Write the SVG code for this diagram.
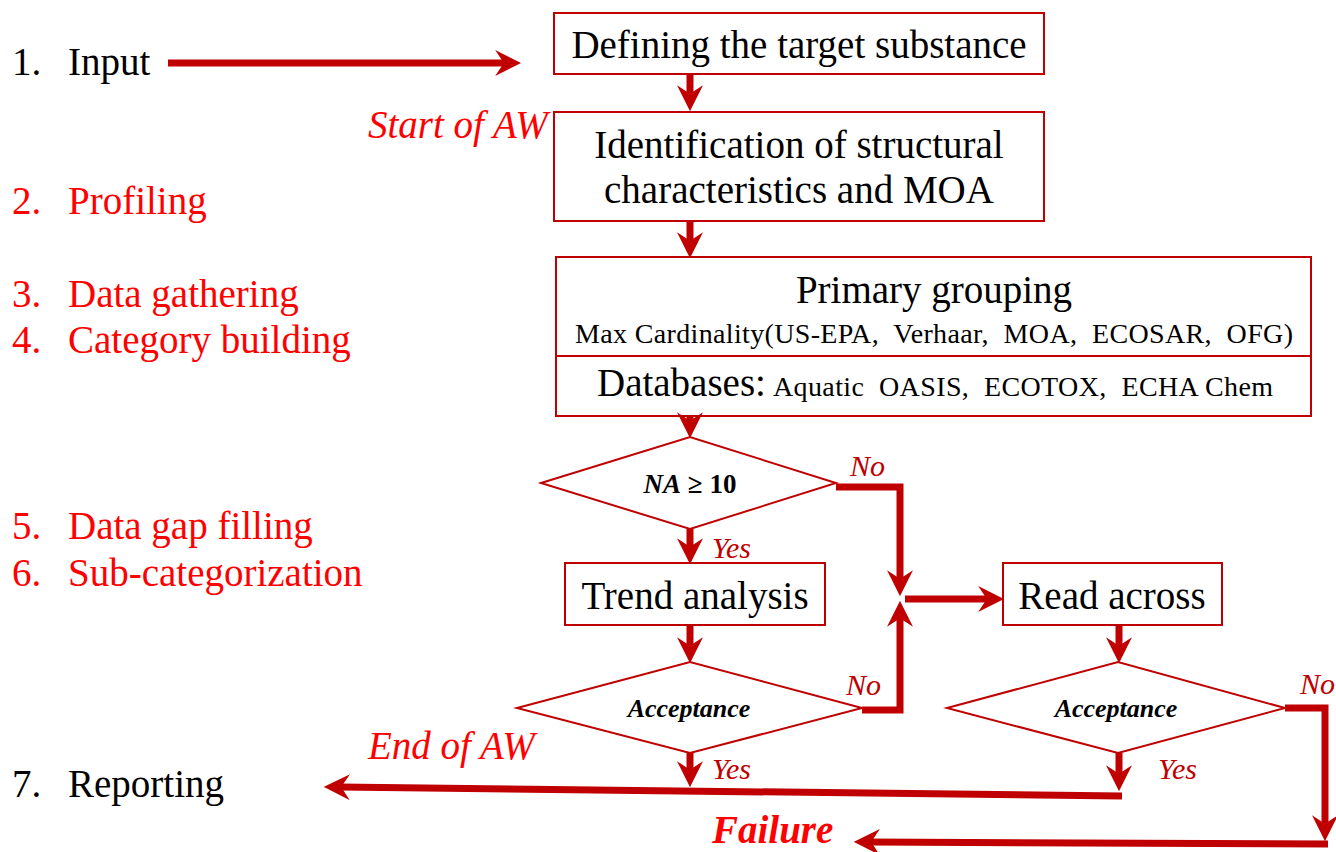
<svg xmlns="http://www.w3.org/2000/svg" width="1336" height="852" viewBox="0 0 1336 852">
  <style>
    text { font-family: "Liberation Serif", "Times New Roman", serif; }
    .box { fill: #ffffff; stroke: #c00000; stroke-width: 2; }
    .lbl { font-size: 39px; fill: #000000; text-anchor: middle; }
    .step { font-size: 39px; }
    .blk { fill: #000000; }
    .red { fill: #ff0000; }
    .yn { font-size: 30px; font-style: italic; fill: #c00000; }
    .cond { font-weight: bold; font-style: italic; fill: #000000; text-anchor: middle; }
    .conn { fill: none; stroke: #c00000; stroke-width: 7; }
  </style>
  <defs>
    <marker id="ah" markerUnits="userSpaceOnUse" markerWidth="26" markerHeight="26" viewBox="0 -12 24 24" refX="10" refY="0" orient="auto">
      <path d="M0,-12 L24,0 L0,12 L8,0 z" fill="#c00000"/>
    </marker>
  </defs>
  <rect width="1336" height="852" fill="#ffffff"/>

  <!-- workflow steps on the left -->
  <g id="steps">
    <text class="step blk" x="12" y="75">1.</text><text class="step blk" x="68" y="75">Input</text>
    <text class="step red" x="12" y="214">2.</text><text class="step red" x="68" y="214">Profiling</text>
    <text class="step red" x="12" y="307">3.</text><text class="step red" x="68" y="307">Data gathering</text>
    <text class="step red" x="12" y="353">4.</text><text class="step red" x="68" y="353">Category building</text>
    <text class="step red" x="12" y="539">5.</text><text class="step red" x="68" y="539">Data gap filling</text>
    <text class="step red" x="12" y="586">6.</text><text class="step red" x="68" y="586">Sub-categorization</text>
    <text class="step blk" x="12" y="797">7.</text><text class="step blk" x="68" y="797">Reporting</text>
  </g>

  <g id="phase-labels">
    <text x="368" y="138" font-size="39" font-style="italic" fill="#ff0000">Start of AW</text>
    <text x="368" y="759" font-size="39" font-style="italic" fill="#ff0000">End of AW</text>
    <text x="712" y="843" font-size="39" font-style="italic" font-weight="bold" fill="#ff0000">Failure</text>
  </g>

  <!-- process boxes -->
  <g id="define">
    <rect class="box" x="554" y="13" width="490" height="61"/>
    <text class="lbl" x="799" y="58">Defining the target substance</text>
  </g>
  <g id="identify">
    <rect class="box" x="554" y="112" width="490" height="109"/>
    <text class="lbl" x="799" y="158">Identification of structural</text>
    <text class="lbl" x="799" y="203">characteristics and MOA</text>
  </g>
  <g id="grouping">
    <rect class="box" x="556" y="257" width="755" height="159"/>
    <line x1="556" y1="356" x2="1311" y2="356" stroke="#c00000" stroke-width="2"/>
    <text class="lbl" x="934" y="303">Primary grouping</text>
    <text x="575" y="343" font-size="28" textLength="718" lengthAdjust="spacing" xml:space="preserve">Max Cardinality(US-EPA,  Verhaar,  MOA,  ECOSAR,  OFG)</text>
    <text x="597" y="396" font-size="39">Databases:</text>
    <text x="773" y="396" font-size="28" textLength="500" lengthAdjust="spacing" xml:space="preserve">Aquatic  OASIS,  ECOTOX,  ECHA Chem</text>
  </g>
  <g id="na-check">
    <polygon class="box" points="541,483 690,437 836,483 690,529"/>
    <text class="cond" x="690" y="493" font-size="27"><tspan>NA</tspan><tspan font-style="normal"> ≥ 10</tspan></text>
  </g>
  <g id="trend">
    <rect class="box" x="565" y="563" width="260" height="62"/>
    <text class="lbl" x="695" y="609">Trend analysis</text>
  </g>
  <g id="accept-trend">
    <polygon class="box" points="517,708 690,662 862,708 690,753"/>
    <text class="cond" x="689" y="717" font-size="26">Acceptance</text>
  </g>
  <g id="read-across">
    <rect class="box" x="1003" y="563" width="219" height="62"/>
    <text class="lbl" x="1112" y="609">Read across</text>
  </g>
  <g id="accept-read">
    <polygon class="box" points="947,708 1118,662 1285,708 1118,753"/>
    <text class="cond" x="1116" y="717" font-size="26">Acceptance</text>
  </g>

  <!-- branch labels -->
  <g id="branch-labels">
    <text class="yn" x="850" y="476">No</text>
    <text class="yn" x="712" y="558">Yes</text>
    <text class="yn" x="846" y="695">No</text>
    <text class="yn" x="712" y="779">Yes</text>
    <text class="yn" x="1158" y="779">Yes</text>
    <text class="yn" x="1300" y="694">No</text>
  </g>

  <!-- connectors -->
  <g id="connectors">
    <line class="conn" x1="168" y1="63" x2="506" y2="63" marker-end="url(#ah)"/>
    <line class="conn" x1="690" y1="74" x2="690" y2="96" marker-end="url(#ah)"/>
    <line class="conn" x1="690" y1="221" x2="690" y2="243" marker-end="url(#ah)"/>
    <line class="conn" x1="690" y1="416" x2="690" y2="423" marker-end="url(#ah)"/>
    <line class="conn" x1="690" y1="529" x2="690" y2="549" marker-end="url(#ah)"/>
    <path class="conn" d="M836,487 H900 V581" marker-end="url(#ah)"/>
    <path class="conn" d="M862,710 H900 V616" marker-end="url(#ah)"/>
    <line class="conn" x1="905" y1="599" x2="989" y2="599" marker-end="url(#ah)"/>
    <line class="conn" x1="690" y1="625" x2="690" y2="648" marker-end="url(#ah)"/>
    <line class="conn" x1="690" y1="753" x2="690" y2="772" marker-end="url(#ah)"/>
    <line class="conn" x1="1119" y1="625" x2="1119" y2="648" marker-end="url(#ah)"/>
    <line class="conn" x1="1119" y1="753" x2="1119" y2="776" marker-end="url(#ah)"/>
    <line class="conn" x1="1122" y1="796" x2="339" y2="787" marker-end="url(#ah)"/>
    <path class="conn" d="M1285,708 H1325 V826" marker-end="url(#ah)"/>
    <line class="conn" x1="1328" y1="844" x2="869" y2="842" marker-end="url(#ah)"/>
  </g>
</svg>
